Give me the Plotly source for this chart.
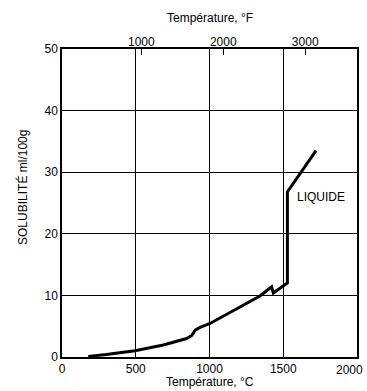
import plotly.graph_objects as go

temp_c = [178, 300, 495, 687, 845, 880, 905, 936, 1000, 1139, 1252, 1342, 1421, 1433, 1528, 1528, 1722]
solubility = [0.1, 0.4, 1.0, 1.95, 3.0, 3.5, 4.4, 4.8, 5.4, 7.2, 8.6, 9.9, 11.4, 10.4, 12.0, 26.8, 33.5]

x_ticks_c = [0, 500, 1000, 1500, 2000]
x_tick_labels = ["0", "500", "1000", "1500", ""]
last_x_label = "2000"
y_ticks = [0, 10, 20, 30, 40, 50]
f_ticks = [1000, 2000, 3000]

FONT = "Liberation Sans, Arial"

fig = go.Figure()
fig.add_trace(go.Scatter(x=temp_c, y=solubility, mode="lines",
                         line=dict(color="black", width=3), showlegend=False))
# dummy trace for °F axis
fig.add_trace(go.Scatter(x=[32, 3632], y=[None, None], xaxis="x2", mode="lines",
                         showlegend=False, hoverinfo="skip"))

fig.update_layout(
    width=367, height=391,
    margin=dict(l=62, r=10, t=49, b=34),
    plot_bgcolor="white", paper_bgcolor="white",
    font=dict(family=FONT, size=12, color="black"),
    xaxis=dict(range=[0, 2000], tickvals=x_ticks_c, ticktext=x_tick_labels,
               showgrid=True, gridcolor="black",
               gridwidth=1, showline=True, linecolor="black", linewidth=1.5, mirror=True,
               zeroline=False, ticks="", fixedrange=True, automargin=False,
               ticklabeloverflow="allow"),
    yaxis=dict(range=[0, 50], tickvals=y_ticks, showgrid=True, gridcolor="black",
               gridwidth=1, showline=True, linecolor="black", linewidth=1.5, mirror=True,
               zeroline=False, ticks="", fixedrange=True, automargin=False),
    xaxis2=dict(range=[32, 3632], overlaying="x", side="top", tickvals=f_ticks,
                ticks="inside", ticklen=6, tickcolor="black", showgrid=False,
                zeroline=False, showline=False, fixedrange=True, automargin=False),
    annotations=[
        dict(text=last_x_label, x=x_ticks_c[-1], y=-0.042, xref="x", yref="paper",
             showarrow=False, xanchor="right", yanchor="middle", xshift=8,
             font=dict(size=12)),
        dict(text="LIQUIDE", x=1756, y=25.9, xref="x", yref="y", showarrow=False,
             font=dict(size=12)),
        dict(text="Température, °C", x=0.5, y=-0.082, xref="paper", yref="paper",
             showarrow=False, yanchor="middle", font=dict(size=12)),
        dict(text="Température, °F", x=0.5, y=1.1, xref="paper", yref="paper",
             showarrow=False, yanchor="middle", font=dict(size=12)),
        dict(text="SOLUBILITÉ ml/100g", x=-0.132, y=0.549, xref="paper", yref="paper",
             showarrow=False, textangle=-90, xanchor="center", yanchor="middle",
             font=dict(size=12)),
    ],
)

fig.write_html("out.html", config={"displayModeBar": False},
               post_script="document.body.style.margin='0';")
